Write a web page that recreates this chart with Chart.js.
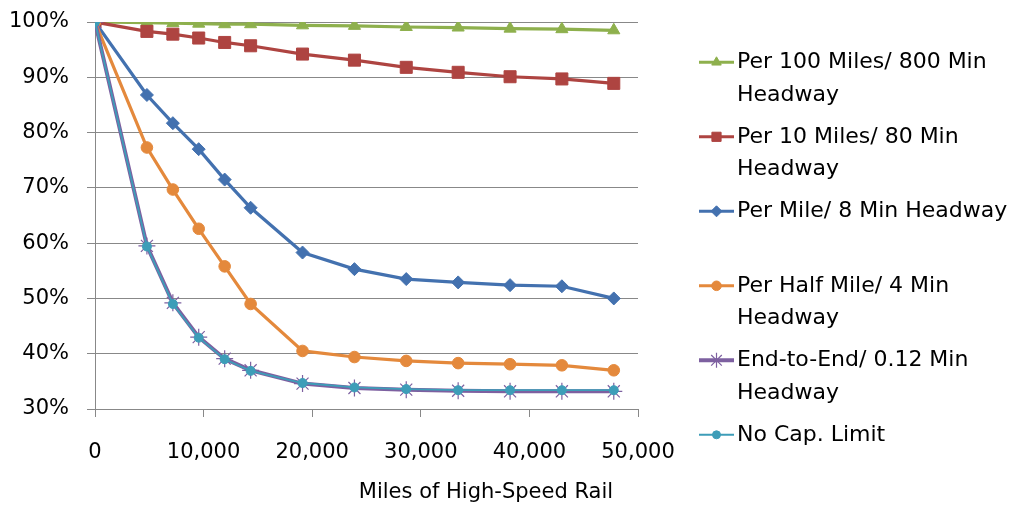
<!DOCTYPE html>
<html>
<head>
<meta charset="utf-8">
<script src="https://cdn.jsdelivr.net/npm/chart.js@4/dist/chart.umd.min.js"></script>
<style>
  html, body { margin: 0; padding: 0; background: #fff; }
  canvas { display: block; }
</style>
</head>
<body>
<canvas id="chart" width="1018" height="512"></canvas>
<script>
// Network length (miles) at each evaluated build-out step
const miles = [0, 4780, 7170, 9550, 11940, 14330, 19110, 23890, 28660, 33440, 38220, 42990, 47770];

// Share of demand served (%) for each station-spacing / headway scenario
const per100Miles  = [100, 99.9, 99.8, 99.7, 99.6, 99.6, 99.4, 99.3, 99.1, 99.0, 98.8, 98.7, 98.5];
const per10Miles   = [100, 98.3, 97.8, 97.1, 96.3, 95.7, 94.2, 93.1, 91.8, 90.9, 90.1, 89.7, 88.9];
const perMile      = [100, 86.8, 81.7, 77.0, 71.5, 66.4, 58.3, 55.3, 53.5, 52.9, 52.4, 52.2, 50.0];
const perHalfMile  = [100, 77.3, 69.7, 62.6, 55.8, 49.0, 40.5, 39.4, 38.7, 38.3, 38.1, 37.9, 37.0];
const endToEnd     = [100, 59.5, 49.2, 43.0, 39.1, 37.0, 34.6, 33.8, 33.5, 33.3, 33.2, 33.2, 33.2];
const noCapLimit   = [100, 59.4, 49.0, 42.9, 39.0, 36.9, 34.7, 33.9, 33.6, 33.4, 33.4, 33.4, 33.4];

// Legend text, one entry per series (each inner array is one wrapped line)
const seriesLabels = [
  ['Per 100 Miles/ 800 Min', 'Headway'],
  ['Per 10 Miles/ 80 Min', 'Headway'],
  ['Per Mile/ 8 Min Headway'],
  ['Per Half Mile/ 4 Min', 'Headway'],
  ['End-to-End/ 0.12 Min', 'Headway'],
  ['No Cap. Limit']
];

const xAxisTitle = 'Miles of High-Speed Rail';

const FONT = '"DejaVu Sans", sans-serif';
const FONT_SIZE = 21;
const LEGEND_FONT_SIZE = 22;

const toPoints = values => values.map((v, i) => ({ x: miles[i], y: v }));

function series(label, values, color, style, radius, lineWidth, legendRadius, legendLineWidth, order, pointBorderWidth) {
  return {
    label: label.join(' '),
    wrappedLabel: label,
    data: toPoints(values),
    borderColor: color,
    backgroundColor: color,
    pointBackgroundColor: color,
    pointBorderColor: color,
    pointBorderWidth: pointBorderWidth,
    borderWidth: lineWidth,
    pointStyle: style,
    pointRadius: radius,
    pointHoverRadius: radius,
    tension: 0,
    fill: false,
    order: order,
    legendRadius: legendRadius,
    legendLineWidth: legendLineWidth
  };
}

const datasets = [
  series(seriesLabels[0], per100Miles, '#8EB04D', 'triangle', 7,   3.2, 5.5, 3, 6, 1),
  series(seriesLabels[1], per10Miles,  '#AE4441', 'rect',     8.5, 3.2, 6.5, 3, 5, 1),
  series(seriesLabels[2], perMile,     '#4371AF', 'rectRot',  6.5, 3.2, 5.5, 3, 4, 1),
  series(seriesLabels[3], perHalfMile, '#E4893C', 'circle',   5.8, 3.2, 4.8, 3, 3, 1),
  series(seriesLabels[4], endToEnd,    '#7D60A0', 'star',     8.5, 4.0, 7.5, 4, 2, 1.2),
  series(seriesLabels[5], noCapLimit,  '#3D9DB8', 'circle',   4.5, 1.8, 4,   2, 1, 1)
];

// Legend to the right of the plot, with wrapped labels
const sideLegend = {
  id: 'sideLegend',
  afterDraw(chart) {
    const ctx = chart.ctx;
    const area = chart.chartArea;
    const sampleLeft = area.right + 61;
    const sampleRight = sampleLeft + 35;
    const textLeft = sampleRight + 3;
    const firstY = 62.3;
    const entryStep = 74.5;
    const lineStep = 32.6;
    ctx.save();
    ctx.font = LEGEND_FONT_SIZE + 'px ' + FONT;
    ctx.textAlign = 'left';
    ctx.textBaseline = 'middle';
    chart.data.datasets.forEach((ds, i) => {
      const y = firstY + i * entryStep;
      ctx.strokeStyle = ds.borderColor;
      ctx.lineWidth = ds.legendLineWidth;
      ctx.lineCap = 'butt';
      ctx.beginPath();
      ctx.moveTo(sampleLeft, y);
      ctx.lineTo(sampleRight, y);
      ctx.stroke();
      ctx.fillStyle = ds.pointBackgroundColor;
      ctx.strokeStyle = ds.pointBorderColor;
      ctx.lineWidth = ds.pointBorderWidth;
      Chart.helpers.drawPoint(ctx, {
        pointStyle: ds.pointStyle,
        radius: ds.legendRadius,
        rotation: 0,
        borderWidth: ds.pointBorderWidth
      }, (sampleLeft + sampleRight) / 2, y);
      ctx.fillStyle = '#000';
      ds.wrappedLabel.forEach((line, j) => {
        ctx.fillText(line, textLeft, y + j * lineStep);
      });
    });
    // horizontal axis title
    ctx.font = FONT_SIZE + 'px ' + FONT;
    ctx.textAlign = 'center';
    ctx.fillText(xAxisTitle, area.left + (area.right - area.left) * 0.72, 493);
    ctx.restore();
  }
};

new Chart(document.getElementById('chart'), {
  type: 'line',
  data: { datasets },
  plugins: [sideLegend],
  options: {
    responsive: false,
    animation: false,
    events: [],
    layout: { padding: { top: 22, right: 380, bottom: 0, left: 0 } },
    plugins: {
      legend: { display: false },
      tooltip: { enabled: false },
      title: { display: false }
    },
    scales: {
      x: {
        type: 'linear',
        min: 0,
        max: 50000,
        ticks: {
          stepSize: 10000,
          color: '#000',
          padding: 23,
          maxRotation: 0,
          font: { family: FONT, size: FONT_SIZE },
          callback: v => v.toLocaleString('en-US')
        },
        grid: { drawOnChartArea: false, drawTicks: true, tickLength: 8, color: '#888', lineWidth: 1 },
        border: { display: true, color: '#888', width: 1 },
        afterFit: scale => { scale.height = 103; }
      },
      y: {
        min: 30,
        max: 100,
        ticks: {
          stepSize: 10,
          color: '#000',
          padding: 18,
          font: { family: FONT, size: FONT_SIZE },
          callback: v => v + '%'
        },
        grid: { drawOnChartArea: true, drawTicks: true, tickLength: 8, color: '#888', lineWidth: 1 },
        border: { display: true, color: '#888', width: 1 },
        afterFit: scale => {
          scale.width = 95;
          scale.paddingTop = 0;
          scale.paddingBottom = 0;
        }
      }
    }
  }
});
</script>
</body>
</html>
